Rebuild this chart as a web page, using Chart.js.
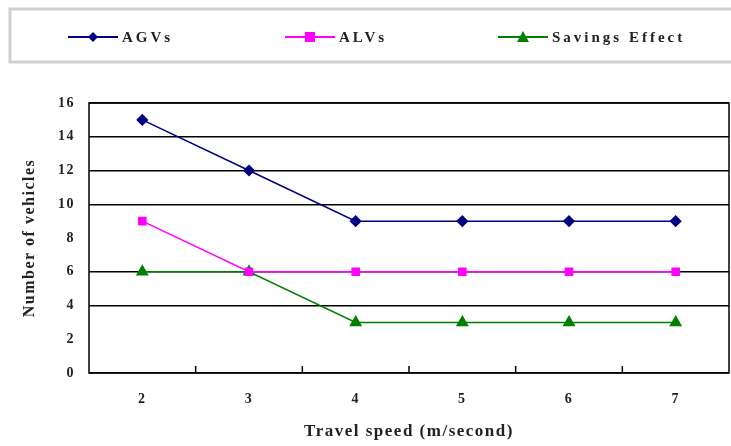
<!DOCTYPE html>
<html>
<head>
<meta charset="utf-8">
<script src="https://cdn.jsdelivr.net/npm/chart.js@4"></script>
<style>
  html, body { margin: 0; padding: 0; background: #fff; overflow: hidden; }
  canvas { display: block; }
</style>
</head>
<body>
<canvas id="chart" width="731" height="446"></canvas>
<script>
const speeds = ["2", "3", "4", "5", "6", "7"];
const agvs = [15, 12, 9, 9, 9, 9];
const alvs = [9, 6, 6, 6, 6, 6];
const savings = [6, 6, 3, 3, 3, 3];
const hiddenGridValues = [8, 2];

const FONT = "'Liberation Serif', 'DejaVu Serif', serif";

// wide letter spacing like the scanned original
const spacing = {
  id: "spacing",
  beforeDraw(chart) { chart.ctx.letterSpacing = "1.5px"; }
};

// legend box drawn on canvas above the plot
const legendBox = {
  id: "legendBox",
  afterDraw(chart) {
    const ctx = chart.ctx;
    ctx.save();
    ctx.strokeStyle = "#cfcfcf";
    ctx.lineWidth = 3;
    ctx.strokeRect(10, 9, 735, 53);
    const starts = [68, 285, 498];
    const y = 37;
    chart.data.datasets.forEach((ds, i) => {
      const x0 = starts[i];
      ctx.strokeStyle = ds.borderColor;
      ctx.lineWidth = 2;
      ctx.beginPath();
      ctx.moveTo(x0, y);
      ctx.lineTo(x0 + 50, y);
      ctx.stroke();
      ctx.fillStyle = ds.backgroundColor;
      const cx = x0 + 25;
      ctx.beginPath();
      if (ds.pointStyle === "rectRot") {
        ctx.moveTo(cx, y - 5); ctx.lineTo(cx + 5, y); ctx.lineTo(cx, y + 5); ctx.lineTo(cx - 5, y);
      } else if (ds.pointStyle === "rect") {
        ctx.rect(cx - 5, y - 5, 10, 10);
      } else {
        ctx.moveTo(cx, y - 6); ctx.lineTo(cx + 6, y + 5); ctx.lineTo(cx - 6, y + 5);
      }
      ctx.closePath();
      ctx.fill();
      ctx.fillStyle = "#222";
      ctx.font = "bold 15px " + FONT;
      ctx.letterSpacing = "3px";
      ctx.textBaseline = "middle";
      ctx.fillText(ds.label, x0 + 54, y + 1);
    });
    ctx.restore();
  }
};

// short inward ticks between categories + plot frame
const frameTicks = {
  id: "frameTicks",
  afterDatasetsDraw(chart) {
    const { ctx, chartArea: a, scales: { x } } = chart;
    ctx.save();
    ctx.strokeStyle = "#000";
    ctx.lineWidth = 1.5;
    for (let i = 1; i < speeds.length; i++) {
      const px = (x.getPixelForValue(i - 1) + x.getPixelForValue(i)) / 2;
      ctx.beginPath();
      ctx.moveTo(px, a.bottom);
      ctx.lineTo(px, a.bottom - 7);
      ctx.stroke();
    }
    ctx.strokeRect(a.left, a.top, a.right - a.left, a.bottom - a.top);
    ctx.restore();
  }
};

new Chart(document.getElementById("chart"), {
  type: "line",
  data: {
    labels: speeds,
    datasets: [
      { label: "AGVs", data: agvs, borderColor: "#000080", backgroundColor: "#000080",
        pointStyle: "rectRot", pointRadius: 5, borderWidth: 1.5 },
      { label: "ALVs", data: alvs, borderColor: "#ff00ff", backgroundColor: "#ff00ff",
        pointStyle: "rect", pointRadius: 5, borderWidth: 1.5 },
      { label: "Savings Effect", data: savings, borderColor: "#008000", backgroundColor: "#008000",
        pointStyle: "triangle", pointRadius: 6, borderWidth: 1.5 }
    ]
  },
  options: {
    responsive: false,
    animation: false,
    layout: { autoPadding: false, padding: { top: 103, right: 2, left: 0, bottom: 0 } },
    plugins: { legend: { display: false }, tooltip: { enabled: false } },
    scales: {
      x: {
        offset: true,
        grid: { display: false },
        border: { display: false },
        ticks: { color: "#222", font: { family: FONT, size: 14, weight: "bold" }, padding: 10 },
        title: { display: true, text: "Travel speed (m/second)", color: "#222",
          font: { family: FONT, size: 17, weight: "bold" }, padding: { top: -8 } },
        afterFit(s) { s.height = 73; s.paddingLeft = 0; s.paddingRight = 0; }
      },
      y: {
        min: 0, max: 16,
        grid: {
          color: (c) => hiddenGridValues.includes(c.tick.value) ? "rgba(0,0,0,0)" : "#000",
          lineWidth: 1.5,
          drawTicks: false
        },
        border: { display: false },
        ticks: { stepSize: 2, color: "#222", font: { family: FONT, size: 14, weight: "bold" }, padding: 14 },
        title: { display: true, text: "Number of vehicles", color: "#222",
          font: { family: FONT, size: 16, weight: "bold" }, padding: { top: 20 } },
        afterFit(s) { s.width = 89; }
      }
    }
  },
  plugins: [spacing, legendBox, frameTicks]
});
</script>
</body>
</html>
